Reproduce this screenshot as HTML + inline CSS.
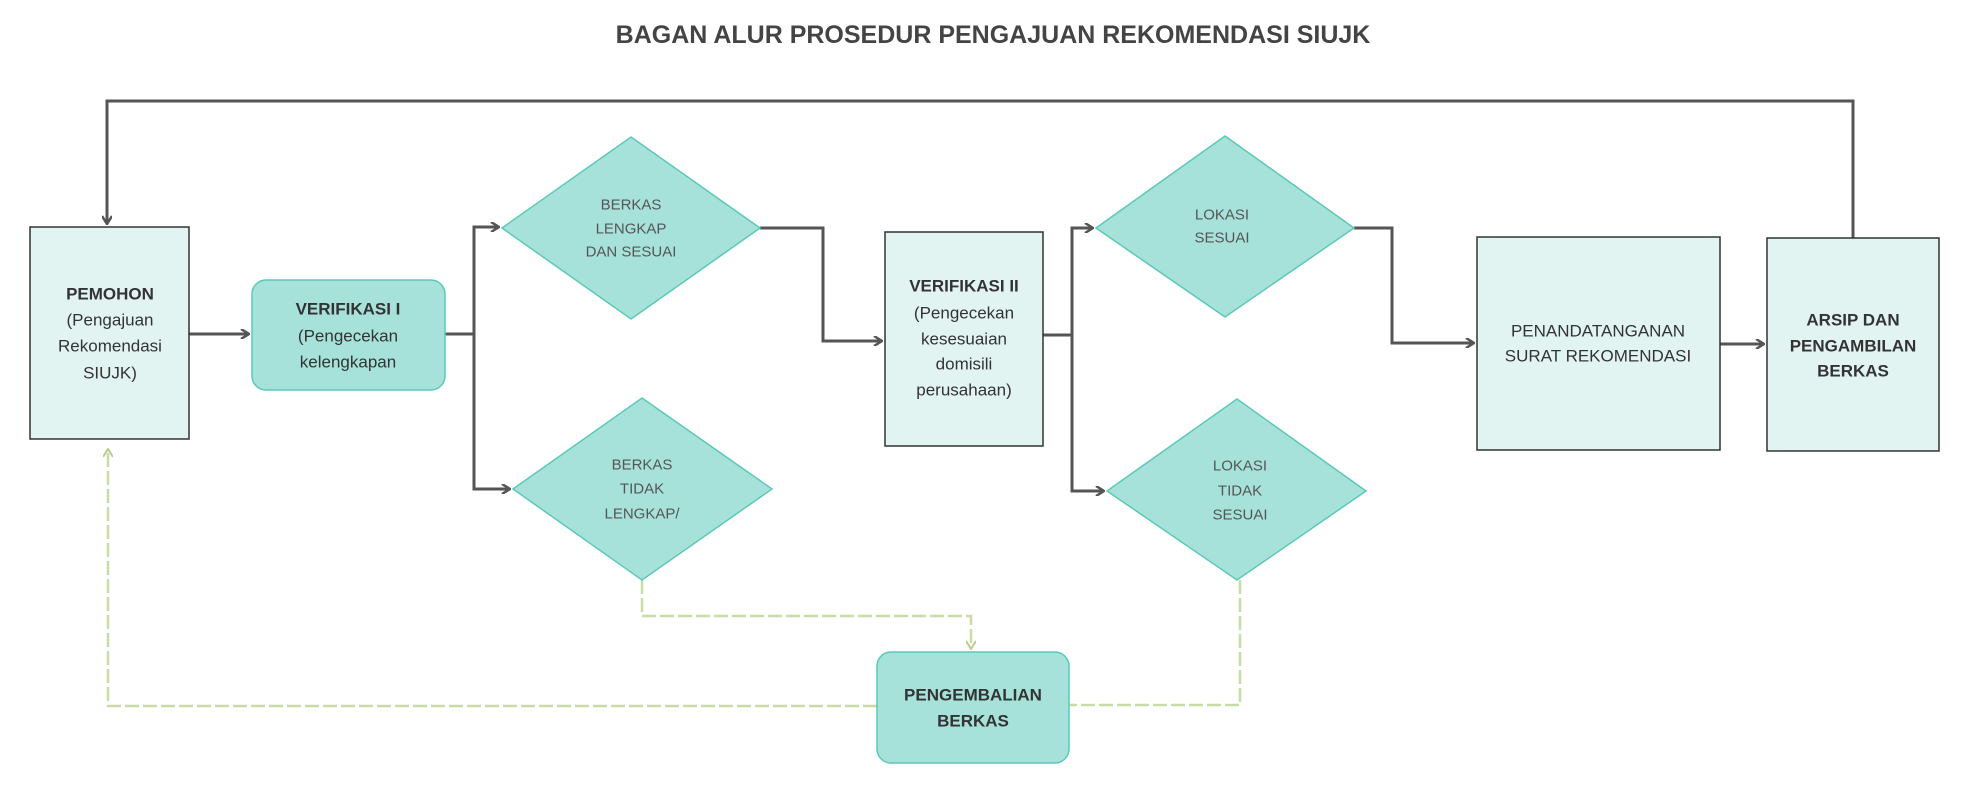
<!DOCTYPE html>
<html><head><meta charset="utf-8"><style>
html,body{margin:0;padding:0;background:#fff;}
svg{display:block;font-family:"Liberation Sans",sans-serif;}
</style></head><body>
<svg width="1973" height="795" viewBox="0 0 1973 795" xmlns="http://www.w3.org/2000/svg">
<defs>
<marker id="a" markerWidth="10" markerHeight="10" refX="8" refY="5" orient="auto" markerUnits="userSpaceOnUse"><path d="M1,0 L9,5 L1,10" fill="none" stroke="#555" stroke-width="2.5"/></marker>
<marker id="g" markerWidth="10" markerHeight="10" refX="8" refY="5" orient="auto" markerUnits="userSpaceOnUse"><path d="M1,0 L9,5 L1,10" fill="none" stroke="#b5cf8a" stroke-width="2"/></marker>
</defs>
<text x="993" y="43" text-anchor="middle" font-size="25" font-weight="bold" fill="#444">BAGAN ALUR PROSEDUR PENGAJUAN REKOMENDASI SIUJK</text>

<g fill="none" stroke="#555" stroke-width="3">
<polyline points="1853,238 1853,101 107,101 107,223" marker-end="url(#a)"/>
<line x1="189" y1="334" x2="248" y2="334" marker-end="url(#a)"/>
<polyline points="445,334 474,334 474,227 498,227" marker-end="url(#a)"/>
<polyline points="474,334 474,489 509,489" marker-end="url(#a)"/>
<polyline points="760,228 823,228 823,341 881,341" marker-end="url(#a)"/>
<polyline points="1043,335 1072,335 1072,228 1092,228" marker-end="url(#a)"/>
<polyline points="1072,335 1072,491 1103,491" marker-end="url(#a)"/>
<polyline points="1354,228 1392,228 1392,343 1473,343" marker-end="url(#a)"/>
<line x1="1720" y1="344" x2="1763" y2="344" marker-end="url(#a)"/>
</g>
<g fill="none" stroke="#c8dca8" stroke-width="2.5" stroke-dasharray="14,4">
<polyline points="642,580 642,616 971,616 971,648" marker-end="url(#g)"/>
<polyline points="877,706 108,706 108,450" marker-end="url(#g)"/>
<polyline points="1240,580 1240,705 1069,705"/>
</g>

<g stroke="#333" stroke-width="1.5" fill="#e2f4f2">
<rect x="30" y="227" width="159" height="212"/>
<rect x="885" y="232" width="158" height="214"/>
<rect x="1477" y="237" width="243" height="213"/>
<rect x="1767" y="238" width="172" height="213"/>
</g>
<g stroke="#5cc8b8" stroke-width="1.5" fill="#a6e2da">
<rect x="252" y="280" width="193" height="110" rx="14"/>
<rect x="877" y="652" width="192" height="111" rx="14"/>
<polygon points="631,137 760,228 631,319 502,228"/>
<polygon points="642,398 772,489 642,580 513,489"/>
<polygon points="1225,136 1354,228 1225,317 1096,228"/>
<polygon points="1237,399 1366,491 1237,580 1107,491"/>
</g>

<g font-size="17" fill="#333" text-anchor="middle" dominant-baseline="central">
<text x="110" y="294" font-weight="bold">PEMOHON</text>
<text x="110" y="320">(Pengajuan</text>
<text x="110" y="346">Rekomendasi</text>
<text x="110" y="373">SIUJK)</text>
<text x="348" y="309" font-weight="bold">VERIFIKASI I</text>
<text x="348" y="336">(Pengecekan</text>
<text x="348" y="362">kelengkapan</text>
<text x="964" y="286" font-weight="bold">VERIFIKASI II</text>
<text x="964" y="313">(Pengecekan</text>
<text x="964" y="339">kesesuaian</text>
<text x="964" y="364">domisili</text>
<text x="964" y="390">perusahaan)</text>
<text x="973" y="695" font-weight="bold">PENGEMBALIAN</text>
<text x="973" y="721" font-weight="bold">BERKAS</text>
<text x="1598" y="331">PENANDATANGANAN</text>
<text x="1598" y="356">SURAT REKOMENDASI</text>
<text x="1853" y="320" font-weight="bold">ARSIP DAN</text>
<text x="1853" y="346" font-weight="bold">PENGAMBILAN</text>
<text x="1853" y="371" font-weight="bold">BERKAS</text>
</g>
<g font-size="15" fill="#555" text-anchor="middle" dominant-baseline="central">
<text x="631" y="205">BERKAS</text>
<text x="631" y="229">LENGKAP</text>
<text x="631" y="252">DAN SESUAI</text>
<text x="642" y="465">BERKAS</text>
<text x="642" y="489">TIDAK</text>
<text x="642" y="514">LENGKAP/</text>
<text x="1222" y="215">LOKASI</text>
<text x="1222" y="238">SESUAI</text>
<text x="1240" y="466">LOKASI</text>
<text x="1240" y="491">TIDAK</text>
<text x="1240" y="515">SESUAI</text>
</g>
</svg>
</body></html>
